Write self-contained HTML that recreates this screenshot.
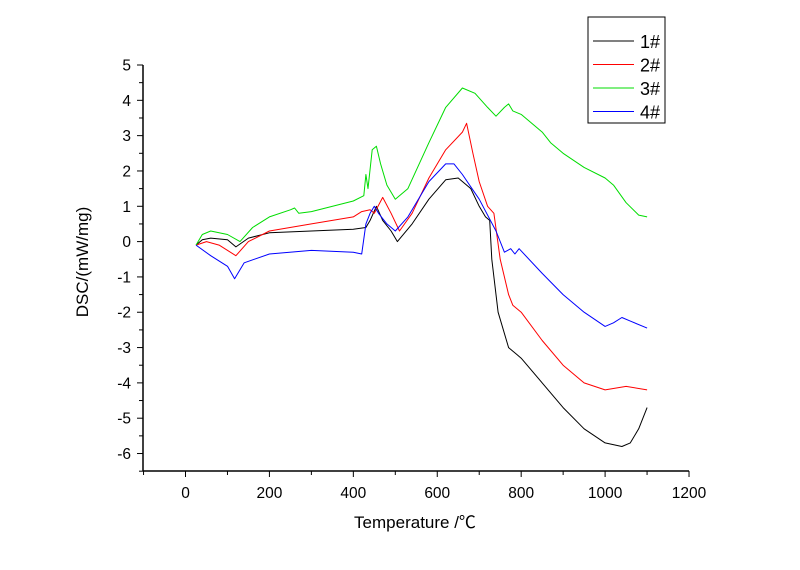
<!DOCTYPE html>
<html><head><meta charset="utf-8"><style>
body{margin:0;background:#fff;}
svg text{font-family:"Liberation Sans","Noto Sans CJK SC",sans-serif;fill:#000;}
</style></head><body>
<svg id="chart" width="800" height="565" xmlns="http://www.w3.org/2000/svg">
<g id="axes"></g>
<g id="series"></g>
<text transform="translate(88,262) rotate(-90)" text-anchor="middle" font-size="17">DSC/(mW/mg)</text>
<text x="415" y="528" text-anchor="middle" font-size="17">Temperature /℃</text>
<g>
<rect x="588" y="17" width="77" height="106" fill="#fff" stroke="#000" stroke-width="1"/>
<g id="legend-items"></g>
</g>
</svg>
<script>
const xTicks=[0,200,400,600,800,1000,1200];
const yTicks=[5,4,3,2,1,0,-1,-2,-3,-4,-5,-6];
const seriesNames=["1#","2#","3#","4#"];
const s1T=[25,40,60,100,120,150,200,300,400,430,440,455,470,490,505,540,580,620,650,680,700,715,725,730,745,770,790,800,850,900,950,1000,1040,1060,1080,1100];
const s1V=[-0.1,0.05,0.1,0.05,-0.15,0.1,0.25,0.3,0.35,0.4,0.6,1.0,0.6,0.3,0.0,0.5,1.2,1.75,1.8,1.5,1.0,0.7,0.6,-0.5,-2.0,-3.0,-3.2,-3.3,-4.0,-4.7,-5.3,-5.7,-5.8,-5.7,-5.3,-4.7];
const s2T=[25,50,80,120,150,200,300,400,420,440,450,470,490,510,540,580,620,660,670,685,700,720,735,750,770,780,800,850,900,950,1000,1050,1100];
const s2V=[-0.1,0.0,-0.1,-0.4,0.0,0.3,0.5,0.7,0.85,0.9,0.8,1.25,0.8,0.3,0.8,1.8,2.6,3.1,3.35,2.5,1.7,1.0,0.8,-0.5,-1.5,-1.8,-2.0,-2.8,-3.5,-4.0,-4.2,-4.1,-4.2];
const s3T=[25,40,60,100,130,160,200,250,260,270,300,400,425,430,435,445,455,465,480,500,530,580,620,660,690,720,740,760,770,780,800,850,870,900,950,1000,1020,1050,1080,1100];
const s3V=[-0.1,0.2,0.3,0.2,0.0,0.4,0.7,0.9,0.95,0.8,0.85,1.15,1.3,1.9,1.5,2.6,2.7,2.2,1.6,1.2,1.5,2.8,3.8,4.35,4.2,3.8,3.55,3.8,3.9,3.7,3.6,3.1,2.8,2.5,2.1,1.8,1.6,1.1,0.75,0.7];
const s4T=[25,60,100,117,140,200,300,400,420,430,440,450,460,480,500,530,580,620,640,660,700,740,760,775,785,795,850,900,950,1000,1020,1040,1060,1100];
const s4V=[-0.1,-0.4,-0.7,-1.05,-0.6,-0.35,-0.25,-0.3,-0.35,0.5,0.8,1.0,0.8,0.5,0.3,0.7,1.7,2.2,2.2,1.9,1.2,0.3,-0.3,-0.2,-0.35,-0.2,-0.9,-1.5,-2.0,-2.4,-2.3,-2.15,-2.25,-2.45];
const colors=["#000000","#ff0000","#00dd00","#0000ff"];
const NS="http://www.w3.org/2000/svg";
function xs(v){return 185.5+v*0.4196;}
function ys(v){return 241.6-v*35.32;}
function mk(tag,attrs,parent){const e=document.createElementNS(NS,tag);for(const k in attrs)e.setAttribute(k,attrs[k]);parent.appendChild(e);return e;}
const axes=document.getElementById('axes');
const xAxis=mk('line',{x1:143,y1:471,x2:xs(1200),y2:471,stroke:'#000','stroke-width':1.5},axes);


const yAxis=mk('line',{x1:143,y1:471,x2:143,y2:ys(5),stroke:'#000','stroke-width':1.5},axes);


for(let v=-100;v<=1200;v+=100){const major=v%200===0;mk('line',{x1:xs(v),x2:xs(v),y1:471,y2:major?477:475,stroke:'#000','stroke-width':1},axes);}
xTicks.forEach(v=>{const t=mk('text',{x:xs(v),y:498,'text-anchor':'middle','font-size':15.5},axes);t.textContent=v;

});
for(let v=-6.5;v<=5;v+=0.5){const major=Math.abs(v%1)<1e-9;mk('line',{x1:major?137:139,x2:143,y1:ys(v),y2:ys(v),stroke:'#000','stroke-width':1},axes);}
yTicks.forEach(v=>{const t=mk('text',{x:131,y:ys(v)+5.5,'text-anchor':'end','font-size':15.5},axes);t.textContent=v;

});
const sg=document.getElementById('series');
const data=[[s1T,s1V],[s2T,s2V],[s3T,s3V],[s4T,s4V]];
data.forEach((d,i)=>{const pts=d[0].map((t,j)=>xs(t).toFixed(1)+','+ys(d[1][j]).toFixed(1)).join(' ');
const p=mk('polyline',{points:pts,fill:'none',stroke:colors[i],'stroke-width':1,'stroke-linejoin':'round'},sg);

});
const li=document.getElementById('legend-items');
seriesNames.forEach((n,i)=>{const y=41+i*23.5;
const l=mk('line',{x1:593,x2:634,y1:y,y2:y,stroke:colors[i],'stroke-width':1},li);


const t=mk('text',{x:640,y:y+7,'font-size':18},li);t.textContent=n;

});
</script>
</body></html>
